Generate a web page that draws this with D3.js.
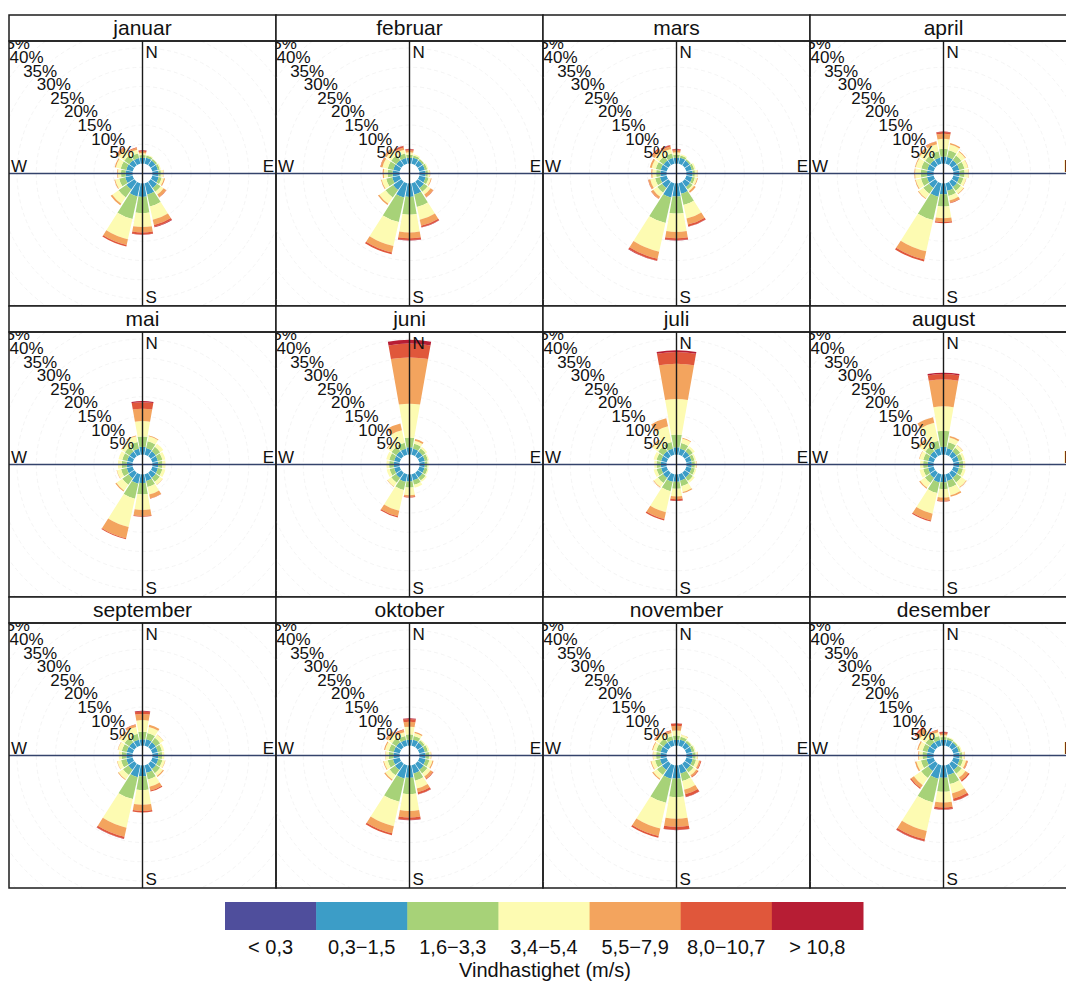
<!DOCTYPE html>
<html>
<head>
<meta charset="utf-8">
<script src="https://d3js.org/d3.v7.min.js"></script>
<style>
  body { margin: 0; background: #fff; }
  svg text { font-family: "Liberation Sans", Arial, sans-serif; fill: #111; }
</style>
</head>
<body>
<script>
// month names (strip titles)
var months = ["januar", "februar", "mars", "april", "mai", "juni",
              "juli", "august", "september", "oktober", "november", "desember"];
// 16 wind directions, degrees from north
var directions = [0, 22.5, 45, 67.5, 90, 112.5, 135, 157.5, 180, 202.5, 225, 247.5, 270, 292.5, 315, 337.5];
var bandLabels = ["< 0,3", "0,3\u22121,5", "1,6\u22123,3", "3,4\u22125,4", "5,5\u22127,9", "8,0\u221210,7", "> 10,8"];
var bandColors = ["#4f4e9c", "#3c9dc7", "#a7d278", "#fdfbb2", "#f3a45e", "#e0573b", "#b71d34"];
var pctTicks = [5, 10, 15, 20, 25, 30, 35, 40, 45];

// percent per direction, bands 0,3-1,5 .. >10,8 (N, NNE, ... NNW)
var januar = [
  [1.5,0.7,0.5,0.4,0.3,0.1], [1.6,0.6,0.2,0,0,0], [1.5,0.5,0.1,0,0,0], [1.5,0.5,0.3,0,0,0],
  [1.6,0.6,0.6,0.1,0,0], [1.7,0.8,0.6,0.3,0,0], [2.0,1.2,0.9,0.8,0.1,0], [3.0,3.2,3.5,1.4,0.5,0.1],
  [3.5,4.2,3.6,1.4,0.5,0.1], [3.5,6.0,5.4,1.5,0.4,0], [2.5,2.5,2.0,0.5,0,0], [2.0,1.6,1.1,0.2,0,0],
  [1.8,1.2,0.8,0.2,0,0], [1.7,1.5,1.3,0.3,0,0], [1.6,1.6,1.8,0.7,0.2,0], [1.5,1.2,1.0,0.5,0.2,0]
];
var februar = [
  [1.5,0.8,0.6,0.5,0.3,0.1], [1.6,0.6,0.3,0,0,0], [1.5,0.5,0.1,0,0,0], [1.5,0.6,0.3,0,0,0],
  [1.6,0.6,0.5,0.1,0,0], [1.7,0.8,0.6,0.2,0,0], [2.0,1.2,0.9,0.8,0.1,0], [3.0,3.3,3.4,1.6,0.4,0.1],
  [3.5,4.6,4.6,1.5,0.5,0.1], [3.8,6.5,6.4,1.7,0.5,0], [2.6,2.4,2.0,0.4,0,0], [2.0,1.6,1.2,0.2,0,0],
  [1.8,1.3,1.0,0.3,0,0], [1.7,1.5,1.4,0.5,0.1,0], [1.6,1.6,1.6,0.6,0.1,0], [1.5,1.2,1.0,0.6,0.4,0.1]
];
var mars = [
  [1.5,0.8,0.6,0.5,0.3,0.1], [1.6,0.6,0.3,0,0,0], [1.5,0.4,0.1,0,0,0], [1.5,0.6,0.4,0,0,0],
  [1.6,0.6,0.6,0.1,0,0], [1.6,0.7,0.6,0.2,0,0], [1.7,0.8,0.5,0.5,0,0], [2.8,3.0,3.6,1.6,0.5,0.1],
  [3.4,4.4,4.8,1.6,0.5,0.1], [3.8,6.8,7.6,1.9,0.5,0.1], [2.0,1.5,1.3,0.6,0.1,0], [1.8,1.3,1.3,0.5,0.1,0],
  [1.6,1.1,1.0,0.3,0,0], [1.6,1.3,1.1,0.5,0,0], [1.5,1.4,1.5,0.8,0.3,0], [1.5,1.2,1.2,0.7,0.3,0.1]
];
var april = [
  [1.8,2.0,2.6,1.3,0.5,0.1], [1.8,1.8,1.5,0.4,0,0], [1.6,1.5,1.2,0.2,0,0], [1.6,1.4,0.9,0.1,0,0],
  [1.6,1.3,1.0,0.1,0,0], [1.6,1.1,0.7,0.1,0,0], [1.7,1.2,0.9,0.2,0,0], [2.0,1.4,1.2,0.6,0.1,0],
  [2.8,3.2,3.0,1.0,0.3,0], [3.6,6.2,8.3,2.2,0.5,0], [2.0,1.8,1.5,0.2,0,0], [1.8,1.6,1.4,0.2,0,0],
  [1.7,1.6,1.5,0.2,0,0], [1.7,1.6,1.5,0.2,0,0], [1.6,1.6,1.8,0.5,0,0], [1.6,1.7,1.9,0.7,0.1,0]
];
var mai = [
  [2.0,2.7,4.0,3.2,1.7,0.3], [1.8,1.8,1.3,0.2,0,0], [1.6,1.4,1.0,0,0,0], [1.5,1.2,0.8,0,0,0],
  [1.5,1.1,0.8,0,0,0], [1.5,1.2,0.8,0,0,0], [1.6,1.3,0.9,0.1,0,0], [1.8,1.6,2.0,1.0,0.1,0],
  [2.2,3.0,4.0,1.6,0.2,0], [2.5,4.0,7.5,3.0,0.3,0], [1.8,2.0,1.9,0.3,0,0], [1.6,1.5,1.1,0.1,0,0],
  [1.5,1.3,1.0,0,0,0], [1.5,1.3,1.0,0,0,0], [1.5,1.5,1.2,0.1,0,0], [1.6,1.8,1.5,0.2,0,0]
];
var juni = [
  [1.9,2.5,8.8,12.0,3.6,1.0], [1.6,1.3,0.8,0.5,0,0], [1.5,1.0,0.5,0,0,0], [1.5,0.8,0.3,0,0,0],
  [1.4,0.7,0.3,0,0,0], [1.4,0.8,0.3,0,0,0], [1.5,1.0,0.4,0,0,0], [1.6,1.2,0.8,0,0,0],
  [1.8,1.6,2.0,0.4,0.2,0], [2.0,2.2,5.5,1.5,0.3,0], [1.7,1.5,1.2,0.1,0,0], [1.5,1.2,0.8,0,0,0],
  [1.5,1.2,0.7,0,0,0], [1.5,1.3,0.8,0,0,0], [1.6,1.5,1.4,0.2,0,0], [1.6,1.6,3.3,1.8,0,0]
];
var juli = [
  [1.9,3.3,9.2,9.2,3.0,0.5], [1.6,1.5,1.2,0.2,0,0], [1.5,1.1,0.6,0,0,0], [1.4,0.8,0.4,0,0,0],
  [1.4,0.8,0.4,0.1,0,0], [1.4,0.9,0.4,0,0,0], [1.5,1.1,0.6,0,0,0], [1.7,1.5,1.5,0.3,0,0],
  [1.9,1.8,2.0,0.7,0.4,0.1], [2.0,2.5,5.6,1.8,0.4,0], [1.7,1.6,1.3,0.2,0,0], [1.5,1.2,0.8,0,0,0],
  [1.5,1.1,0.6,0,0,0], [1.5,1.2,0.8,0,0,0], [1.6,1.6,1.8,0.3,0,0], [1.6,1.8,4.2,2.1,0,0]
];
var august = [
  [2.0,4.2,6.3,7.0,1.4,0.35], [1.7,1.6,1.3,0.4,0,0], [1.5,1.2,0.8,0.1,0,0], [1.5,1.0,0.6,0,0,0],
  [1.5,1.0,0.6,0,0,0], [1.5,1.1,0.7,0,0,0], [1.6,1.5,1.5,0.2,0,0], [1.8,1.8,2.0,0.4,0,0],
  [2.0,1.8,2.2,0.8,0.2,0], [2.2,2.8,5.5,1.8,0.3,0], [1.7,1.6,1.5,0.3,0,0], [1.5,1.3,1.0,0,0,0],
  [1.5,1.2,0.8,0,0,0], [1.5,1.3,1.0,0.1,0,0], [1.6,1.6,1.8,0.5,0,0], [1.7,2.0,4.8,1.5,0,0]
];
var september = [
  [1.6,2.0,3.0,1.6,0.6,0.2], [1.7,1.7,1.6,0.6,0,0], [1.6,1.4,1.0,0.1,0,0], [1.5,1.1,0.6,0,0,0],
  [1.5,1.0,0.6,0,0,0], [1.6,1.1,0.7,0.1,0,0], [1.7,1.3,0.9,0.3,0,0], [2.0,1.8,1.9,1.0,0.3,0],
  [2.8,3.6,3.8,1.6,0.4,0], [3.2,5.8,7.6,2.4,0.5,0.1], [1.9,1.7,1.4,0.2,0,0], [1.7,1.4,1.0,0.1,0,0],
  [1.6,1.2,0.8,0,0,0], [1.6,1.3,1.0,0.1,0,0], [1.6,1.5,1.5,0.4,0,0], [1.6,1.6,1.8,0.6,0.1,0]
];
var oktober = [
  [1.5,1.4,2.0,1.3,0.7,0.2], [1.6,1.0,0.8,0.3,0,0], [1.5,0.7,0.3,0,0,0], [1.5,0.8,0.4,0,0,0],
  [1.6,0.9,0.5,0.1,0,0], [1.7,1.0,0.8,0.3,0,0], [1.9,1.2,1.0,0.7,0.2,0], [2.2,1.9,2.1,1.0,0.5,0.1],
  [3.2,4.2,4.4,1.7,0.6,0.1], [3.5,6.2,6.5,1.9,0.5,0], [2.0,1.7,1.4,0.3,0,0], [1.8,1.4,1.0,0.2,0,0],
  [1.6,1.2,0.8,0.1,0,0], [1.6,1.3,1.0,0.3,0,0], [1.6,1.4,1.3,0.6,0.1,0], [1.5,1.1,1.0,0.6,0.2,0]
];
var november = [
  [1.5,1.1,1.3,1.2,0.6,0.1], [1.6,0.8,0.5,0.1,0,0], [1.5,0.6,0.2,0,0,0], [1.5,0.7,0.3,0,0,0],
  [1.6,0.8,0.5,0.1,0,0], [1.7,0.9,0.8,0.4,0.2,0], [1.8,1.0,0.9,0.5,0.2,0], [2.2,2.0,2.3,1.2,0.7,0.1],
  [3.4,4.8,5.6,2.1,0.8,0.1], [3.6,6.4,6.8,2.0,0.5,0], [2.0,1.6,1.2,0.3,0,0], [1.8,1.3,1.0,0.2,0,0],
  [1.6,1.1,0.8,0.1,0,0], [1.6,1.2,0.9,0.2,0,0], [1.5,1.3,1.2,0.5,0.1,0], [1.5,1.0,0.9,0.5,0.2,0]
];
var desember = [
  [1.5,0.7,0.5,0.4,0.4,0.1], [1.6,0.5,0.2,0,0,0], [1.5,0.4,0.1,0,0,0], [1.5,0.5,0.3,0,0,0],
  [1.6,0.7,0.6,0.1,0,0], [1.7,0.9,0.8,0.4,0.1,0], [2.0,1.2,1.2,0.9,0.4,0], [2.6,2.4,2.5,1.4,0.6,0.1],
  [3.2,3.6,2.8,1.3,0.5,0.1], [3.6,6.3,7.6,2.2,0.5,0.1], [2.3,2.2,2.3,0.9,0.3,0], [1.9,1.5,1.2,0.4,0,0],
  [1.7,1.2,0.9,0.2,0,0], [1.7,1.3,1.1,0.3,0,0], [1.6,1.5,1.9,1.1,0.5,0], [1.5,1.1,1.0,0.5,0.2,0]
];
var monthData = [januar, februar, mars, april, mai, juni, juli, august, september, oktober, november, desember];

var W = 1066, H = 982;
var gridLeft = 9, gridTop = 15;
var colW = 267, rowH = 291, stripH = 26, panelH = rowH - stripH;
var offset = 10;

var svg = d3.select("body").append("svg")
    .attr("width", W)
    .attr("height", H);

var r = d3.scaleLinear().domain([0, 45]).range([offset, offset + 45 * 3.85]);
var ang = d3.scaleLinear().domain([0, 360]).range([0, 2 * Math.PI]);
var halfW = 10;   // half width of a wedge, degrees

var arc = d3.arc()
    .innerRadius(function(d) { return r(d.y0); })
    .outerRadius(function(d) { return r(d.y1); })
    .startAngle(function(d) { return ang(d.dir - halfW); })
    .endAngle(function(d) { return ang(d.dir + halfW); });

var defs = svg.append("defs");

monthData.forEach(function(rows, m) {
    var col = m % 4, row = Math.floor(m / 4);
    var x0 = gridLeft + col * colW;
    var y0 = gridTop + row * rowH;
    var py = y0 + stripH;
    var cx = x0 + colW / 2, cy = py + panelH / 2;

    defs.append("clipPath").attr("id", "clip" + m)
        .append("rect")
        .attr("x", x0).attr("y", py)
        .attr("width", colW).attr("height", panelH);

    var g = svg.append("g").attr("clip-path", "url(#clip" + m + ")");

    // faint dashed grid circles
    g.selectAll("circle.grid")
        .data(pctTicks)
        .enter().append("circle")
        .attr("class", "grid")
        .attr("cx", cx).attr("cy", cy)
        .attr("r", function(d) { return r(d); })
        .attr("fill", "none")
        .attr("stroke", "#f1f1f1")
        .attr("stroke-dasharray", "4,3")
        .attr("stroke-width", 0.8);

    // stack segments
    var segs = [];
    rows.forEach(function(vals, i) {
        var acc = 0;
        vals.forEach(function(v, b) {
            if (v > 0) segs.push({dir: directions[i], y0: acc, y1: acc + v, band: b + 1});
            acc += v;
        });
    });

    g.append("g")
        .attr("transform", "translate(" + cx + "," + cy + ")")
        .selectAll("path")
        .data(segs)
        .enter().append("path")
        .attr("d", arc)
        .attr("fill", function(d) { return bandColors[d.band]; });

    // percent labels along the NW diagonal
    g.selectAll("text.pct")
        .data(pctTicks)
        .enter().append("text")
        .attr("class", "pct")
        .attr("x", function(d) { return cx - r(d) * Math.SQRT1_2; })
        .attr("y", function(d) { return cy - r(d) * Math.SQRT1_2; })
        .attr("text-anchor", "middle")
        .attr("dominant-baseline", "central")
        .style("font-size", "17px")
        .text(function(d) { return d + "%"; });

    // axis cross
    g.append("line")
        .attr("x1", x0).attr("x2", x0 + colW)
        .attr("y1", cy).attr("y2", cy)
        .attr("stroke", "#34436b").attr("stroke-width", 1.7);
    g.append("line")
        .attr("x1", cx).attr("x2", cx)
        .attr("y1", py).attr("y2", py + panelH)
        .attr("stroke", "#1a1a1a").attr("stroke-width", 1.4);

    // compass letters
    g.append("text").attr("x", cx + 3).attr("y", py + 17)
        .style("font-size", "17px").text("N");
    g.append("text").attr("x", cx + 3).attr("y", py + panelH - 3)
        .style("font-size", "17px").text("S");
    g.append("text").attr("x", x0 + 2).attr("y", cy - 2)
        .style("font-size", "17px").text("W");
    g.append("text").attr("x", x0 + colW - 2).attr("y", cy - 2)
        .attr("text-anchor", "end")
        .style("font-size", "17px").text("E");

    // strip
    svg.append("rect")
        .attr("x", x0).attr("y", y0)
        .attr("width", colW).attr("height", stripH)
        .attr("fill", "#fff")
        .attr("stroke", "#1c1c1c").attr("stroke-width", 1.5);
    svg.append("text")
        .attr("x", cx).attr("y", y0 + 20)
        .attr("text-anchor", "middle")
        .style("font-size", "21px")
        .text(months[m]);

    // panel border
    svg.append("rect")
        .attr("x", x0).attr("y", py)
        .attr("width", colW).attr("height", panelH)
        .attr("fill", "none")
        .attr("stroke", "#1c1c1c").attr("stroke-width", 1.5);
});

// legend colour bar
var legX = d3.scaleBand().domain(bandLabels).range([225, 863]);
var leg = svg.append("g");
leg.selectAll("rect")
    .data(bandLabels)
    .enter().append("rect")
    .attr("x", function(d) { return legX(d); })
    .attr("y", 902)
    .attr("width", legX.bandwidth() + 0.5)
    .attr("height", 28)
    .attr("fill", function(d, i) { return bandColors[i]; });
leg.selectAll("text")
    .data(bandLabels)
    .enter().append("text")
    .attr("x", function(d) { return legX(d) + legX.bandwidth() / 2; })
    .attr("y", 954)
    .attr("text-anchor", "middle")
    .style("font-size", "20px")
    .text(function(d) { return d; });
svg.append("text")
    .attr("x", 545).attr("y", 977)
    .attr("text-anchor", "middle")
    .style("font-size", "20px")
    .text("Vindhastighet (m/s)");
</script>
</body>
</html>
